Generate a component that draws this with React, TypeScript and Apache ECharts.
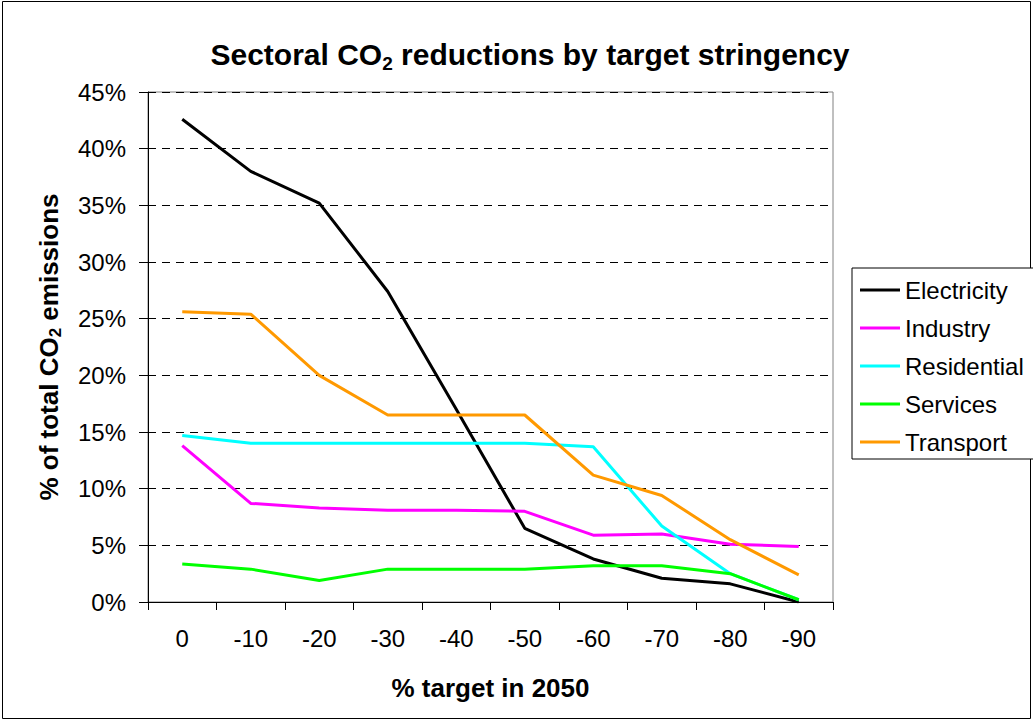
import React, { useEffect, useRef } from "react";
import * as echarts from "echarts";

const categories = ["0", "-10", "-20", "-30", "-40", "-50", "-60", "-70", "-80", "-90"];
const electricity = [42.6, 38.0, 35.2, 27.4, 17.0, 6.5, 3.8, 2.1, 1.6, 0.0];
const industry = [13.8, 8.7, 8.3, 8.1, 8.1, 8.0, 5.9, 6.0, 5.1, 4.9];
const residential = [14.7, 14.0, 14.0, 14.0, 14.0, 14.0, 13.7, 6.7, 2.5, 0.2];
const services = [3.35, 2.9, 1.9, 2.9, 2.9, 2.9, 3.2, 3.2, 2.5, 0.2];
const transport = [25.6, 25.4, 20.0, 16.5, 16.5, 16.5, 11.2, 9.4, 5.5, 2.4];

const seriesNames = ["Electricity", "Industry", "Residential", "Services", "Transport"];
const seriesColors = ["#000000", "#FF00FF", "#00FFFF", "#00FF00", "#FF9900"];
const seriesData = [electricity, industry, residential, services, transport];

const FONT = "Liberation Sans, Arial, sans-serif";

export default function App() {
  const ref = useRef<HTMLDivElement>(null);
  useEffect(() => {
    if (!ref.current) return;
    const chart = echarts.init(ref.current, null, { renderer: "svg" });
    chart.setOption({
      animation: false,
      backgroundColor: "#ffffff",
      textStyle: { fontFamily: FONT },
      title: {
        text: "{a|Sectoral CO}{s|2}{a| reductions by target stringency}",
        left: 525,
        textAlign: "center",
        top: 30,
        textStyle: {
          rich: {
            a: { fontFamily: FONT, fontSize: 30, fontWeight: "bold", color: "#000", lineHeight: 38, verticalAlign: "middle" },
            s: { fontFamily: FONT, fontSize: 19, fontWeight: "bold", color: "#000", lineHeight: 38, verticalAlign: "bottom" },
          },
        },
      },
      graphic: [
        {
          type: "rect",
          shape: { x: 2.5, y: 1.5, width: 1028, height: 717 },
          style: { fill: "none", stroke: "#000", lineWidth: 1 },
          silent: true,
        },
      ],
      legend: {
        orient: "vertical",
        left: 852,
        top: 268,
        padding: [10, 60, 5, 8],
        backgroundColor: "#fff",
        borderColor: "#000",
        borderWidth: 1,
        icon: "path://M0,0 L40,0 L40,3 L0,3 Z",
        itemWidth: 40,
        itemHeight: 24,
        itemGap: 14,
        textStyle: { fontFamily: FONT, fontSize: 24, color: "#000", lineHeight: 24 },
        data: seriesNames,
      },
      grid: {
        left: 148,
        right: 200,
        top: 92,
        bottom: 119,
        show: true,
        borderColor: "#808080",
        borderWidth: 1,
        backgroundColor: "#fff",
      },
      xAxis: {
        type: "category",
        data: categories,
        boundaryGap: true,
        name: "% target in 2050",
        nameLocation: "middle",
        nameGap: 73,
        nameTextStyle: { fontFamily: FONT, fontSize: 26, fontWeight: "bold", color: "#000" },
        axisLine: { lineStyle: { color: "#000", width: 1 } },
        axisTick: { show: true, length: 8, lineStyle: { color: "#000" } },
        axisLabel: { fontFamily: FONT, fontSize: 24, color: "#000", margin: 24 },
        splitLine: { show: false },
      },
      yAxis: {
        type: "value",
        min: 0,
        max: 45,
        interval: 5,
        name: "{a|% of total CO}{s|2}{a| emissions}",
        nameLocation: "middle",
        nameGap: 84,
        nameRotate: 90,
        nameTextStyle: {
          rich: {
            a: { fontFamily: FONT, fontSize: 26, fontWeight: "bold", color: "#000", lineHeight: 30, verticalAlign: "middle" },
            s: { fontFamily: FONT, fontSize: 17, fontWeight: "bold", color: "#000", lineHeight: 30, verticalAlign: "bottom" },
          },
        },
        axisLine: { show: true, lineStyle: { color: "#000", width: 1 } },
        axisTick: { show: true, length: 9, lineStyle: { color: "#000" } },
        axisLabel: { fontFamily: FONT, fontSize: 24, color: "#000", margin: 22, formatter: "{value}%" },
        splitLine: { show: true, lineStyle: { color: "#000", type: [8, 6], width: 1 } },
      },
      series: seriesNames.map((name, i) => ({
        name,
        type: "line",
        data: seriesData[i],
        symbol: "none",
        showSymbol: false,
        color: seriesColors[i],
        lineStyle: { color: seriesColors[i], width: 3 },
        itemStyle: { color: seriesColors[i] },
        z: 3,
      })),
    });
    return () => chart.dispose();
  }, []);
  return (
    <div
      ref={ref}
      style={{ position: "fixed", left: 0, top: 0, width: 1033, height: 721 }}
    />
  );
}
